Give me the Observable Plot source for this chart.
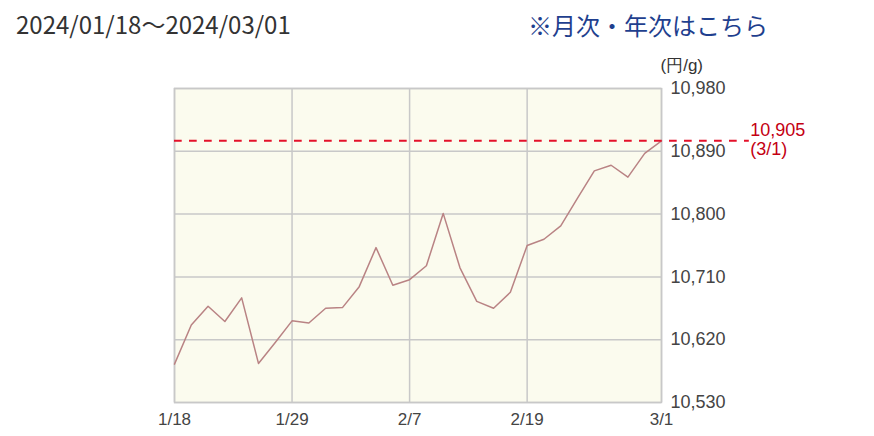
<!DOCTYPE html>
<html>
<head>
<meta charset="utf-8">
<script src="https://cdn.jsdelivr.net/npm/d3@7"></script>
<script src="https://cdn.jsdelivr.net/npm/@observablehq/plot@0.6"></script>
<style>
  html, body { margin: 0; padding: 0; background: #fff; }
  #head { position: relative; width: 874px; height: 50px; font-family: "Noto Sans CJK JP", "Noto Sans", sans-serif; }
  #title { position: absolute; left: 16px; top: 6px; font-size: 24px; color: #333; white-space: nowrap; }
  #link { position: absolute; left: 528px; top: 7px; font-size: 24px; color: #1f3f8e; white-space: nowrap; }
</style>
</head>
<body>
<div id="head"><span id="title"></span><span id="link"></span></div>
<div id="chart"></div>
<script>
const titleText = "2024/01/18～2024/03/01";
const linkText = "※月次・年次はこちら";
const unitLabel = "(円/g)";

const dates = ["1/18","1/19","1/22","1/23","1/24","1/25","1/26","1/29","1/30","1/31",
               "2/1","2/2","2/5","2/6","2/7","2/8","2/9","2/13","2/14","2/15",
               "2/16","2/19","2/20","2/21","2/22","2/26","2/27","2/28","2/29","3/1"];
const prices = [10585,10641,10668,10646,10680,10586,10616,10647,10644,10665,
                10666,10696,10752,10698,10706,10726,10801,10723,10675,10665,
                10688,10755,10764,10783,10823,10862,10870,10853,10887,10905];
const xTickLabels = ["1/18","1/29","2/7","2/19","3/1"];
const yTicks = [10530,10620,10710,10800,10890,10980];
const latestLabel = "10,905\n(3/1)";

document.getElementById("title").textContent = titleText;
document.getElementById("link").textContent = linkText;

const data = dates.map((d, i) => ({i, date: d, price: prices[i]}));
const last = data[data.length - 1];
const xTicks = xTickLabels.map(l => dates.indexOf(l));
const ext = (data.length - 1) * 88 / 488; // rule extension beyond the frame, in index units

const chart = Plot.plot({
  width: 874,
  height: 386,
  marginTop: 38,
  marginBottom: 34,
  marginLeft: 174,
  marginRight: 213,
  style: {fontFamily: "'Liberation Sans', Arial, sans-serif", fontSize: "18px", color: "#444", background: "#fff", overflow: "visible"},
  x: {domain: [0, data.length - 1]},
  y: {domain: [10530, 10980]},
  marks: [
    Plot.frame({fill: "#fbfbee", stroke: null}),
    Plot.gridY(yTicks, {stroke: "#c8c8c8", strokeOpacity: 1, strokeWidth: 1.5}),
    Plot.gridX(xTicks, {stroke: "#c8c8c8", strokeOpacity: 1, strokeWidth: 1.5}),
    Plot.frame({stroke: "#c8c8c8", strokeWidth: 1.5}),
    Plot.axisY(yTicks, {anchor: "right", tickSize: 0, tickPadding: 9, tickFormat: d3.format(","), label: null, fontSize: 18}),
    Plot.axisX(xTicks, {anchor: "bottom", tickSize: 0, tickPadding: 10, tickFormat: i => dates[i], label: null, fontSize: 17}),
    Plot.line(data, {x: "i", y: "price", stroke: "#b98384", strokeWidth: 1.5}),
    Plot.ruleY([last], {y: "price", x1: 0, x2: d => d.i + ext, stroke: "#e4112a", strokeWidth: 2, strokeDasharray: "7.7,7.3", clip: false}),
    Plot.text([last], {x: d => d.i + ext, y: "price", text: () => latestLabel, textAnchor: "start", dx: 1, dy: -1, lineAnchor: "middle", lineHeight: 1.05, fill: "#c40012", fontSize: 18}),
    Plot.text([unitLabel], {frameAnchor: "top-right", text: d => d, textAnchor: "start", lineAnchor: "middle", dx: -1, dy: -23, fill: "#333", fontSize: 17})
  ]
});
document.getElementById("chart").appendChild(chart);
</script>
</body>
</html>
